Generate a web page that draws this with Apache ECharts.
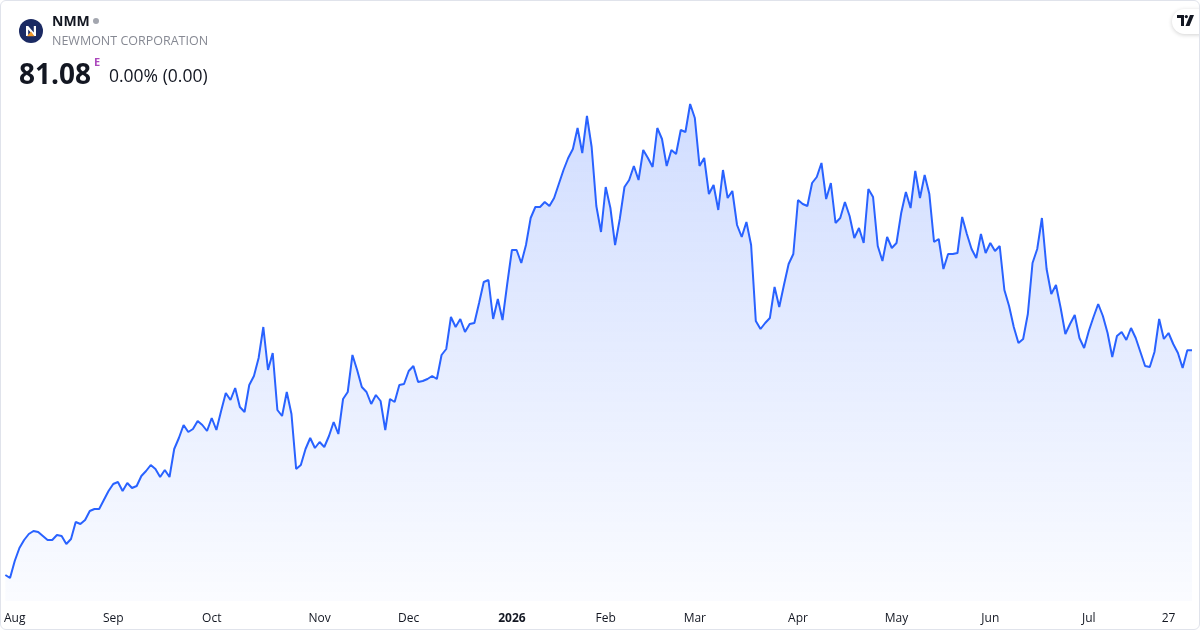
<!DOCTYPE html>
<html>
<head>
<meta charset="utf-8">
<script src="https://cdn.jsdelivr.net/npm/echarts@6/dist/echarts.min.js"></script>
<style>
  html, body { margin:0; padding:0; background:#fff; }
  #frame { position:relative; width:1200px; height:630px; box-sizing:border-box; border:1px solid #e0e3eb; border-radius:6px; overflow:hidden; font-family:"Open Sans", Roboto, sans-serif; }
  #chart { position:absolute; left:0; top:0; width:1200px; height:630px; }
  .abs { position:absolute; white-space:nowrap; }
</style>
</head>
<body>
<div id="frame">
  <div id="chart"></div>
  <svg class="abs" style="left:18px;top:18px" width="24" height="24" viewBox="0 0 24 24">
    <circle cx="12" cy="12" r="12" fill="#1b2a63"/>
    <path d="M7 17 V7 H9.2 L14.8 13.6 V7 H17 V17 H14.8 L9.2 10.4 V17 Z" fill="#ffffff"/>
    <path d="M8 17.2 L12 12.6 L15.5 17.2 Z" fill="#f39a2b"/>
  </svg>
  <div class="abs" style="left:51px;top:10px;font-size:14px;font-weight:700;color:#131722;line-height:20px;">NMM</div>
  <div class="abs" style="left:92px;top:17px;width:6px;height:6px;border-radius:3px;background:#a3a6af;"></div>
  <div class="abs" style="left:51px;top:31px;font-size:12.5px;color:#868993;line-height:18px;">NEWMONT CORPORATION</div>
  <div class="abs" style="left:18px;top:54px;font-size:28px;font-weight:700;color:#131722;line-height:36px;">81.08</div>
  <div class="abs" style="left:93px;top:54px;font-size:11px;font-weight:700;color:#ab47bc;line-height:14px;">E</div>
  <div class="abs" style="left:108px;top:62px;font-size:17.5px;color:#131722;line-height:24px;">0.00% (0.00)</div>
  <div class="abs" style="left:1171px;top:8px;width:40px;height:25px;border-radius:13px;background:#fff;box-shadow:0 1px 4px rgba(0,0,0,0.18);"></div>
  <svg class="abs" style="left:1176px;top:14px" width="18" height="12" viewBox="0 0 18 12">
    <path d="M0 0 H7 V11 H4 V3 H0 Z" fill="#131722"/>
    <circle cx="9.3" cy="1.6" r="1.6" fill="#131722"/>
    <path d="M13 0 H17 L12.5 11 H8.5 Z" fill="#131722"/>
  </svg>
</div>
<script>
// ---- data ----
const startDate = '2025-07-30';
const marketHolidays = ['2025-09-01','2025-11-27','2025-12-25','2026-01-01','2026-01-19','2026-02-16','2026-04-03','2026-05-25','2026-06-19','2026-07-03'];

const closes = [
  58.6, 58.3, 60.0, 61.3, 62.1, 62.7, 63.0, 62.9, 62.5, 62.1,
  62.1, 62.6, 62.5, 61.7, 62.2, 63.9, 63.7, 64.1, 65.0, 65.2,
  65.2, 66.1, 67.0, 67.7, 67.9, 67.0, 67.8, 67.3, 67.5, 68.5,
  69.0, 69.6, 69.2, 68.4, 69.1, 68.4, 71.2, 72.3, 73.6, 72.9,
  73.2, 74.0, 73.6, 73.0, 74.3, 73.1, 75.0, 76.8, 76.1, 77.3,
  75.4, 74.9, 77.6, 78.5, 80.3, 83.4, 79.1, 80.8, 75.1, 74.5,
  76.9, 74.7, 69.2, 69.6, 71.2, 72.3, 71.3, 71.9, 71.4, 72.5,
  73.9, 72.7, 76.2, 76.9, 80.6, 79.1, 77.4, 76.9, 75.7, 76.6,
  76.0, 73.1, 76.2, 75.9, 77.6, 77.7, 79.0, 79.5, 77.9, 78.0,
  78.2, 78.5, 78.2, 80.6, 81.2, 84.4, 83.4, 84.2, 82.9, 83.7,
  83.8, 85.8, 87.9, 88.1, 84.2, 86.2, 84.1, 87.7, 91.1, 91.1,
  89.8, 91.6, 94.3, 95.4, 95.4, 95.9, 95.5, 96.3, 97.7, 99.1,
  100.3, 101.2, 103.3, 100.8, 104.5, 101.4, 95.5, 92.9, 97.4, 95.3,
  91.6, 94.2, 97.4, 98.1, 99.5, 98.1, 101.1, 100.3, 99.4, 103.3,
  102.2, 99.5, 101.1, 100.7, 103.1, 102.9, 105.7, 104.3, 99.5, 100.3,
  96.7, 97.6, 95.1, 99.1, 96.3, 97.0, 93.6, 92.4, 93.9, 91.6,
  84.0, 83.2, 83.8, 84.3, 87.4, 85.4, 87.6, 89.7, 90.7, 96.1,
  95.7, 95.5, 97.8, 98.4, 99.8, 96.2, 97.8, 93.8, 94.3, 95.9,
  94.5, 92.3, 93.3, 91.8, 97.2, 96.4, 91.5, 90.0, 92.4, 91.3,
  91.8, 94.8, 96.9, 95.3, 99.0, 96.3, 98.6, 96.7, 91.9, 92.2,
  89.2, 90.7, 90.7, 90.8, 94.4, 92.7, 91.2, 90.3, 92.7, 90.8,
  91.8, 91.0, 91.5, 87.1, 85.5, 83.4, 81.8, 82.2, 84.7, 89.8,
  91.2, 94.3, 89.2, 86.7, 87.6, 85.3, 82.7, 83.7, 84.6, 82.3,
  81.3, 83.0, 84.4, 85.7, 84.5, 82.8, 80.4, 82.5, 82.9, 82.1,
  83.3, 82.3, 80.9, 79.5, 79.4, 80.9, 84.2, 82.2, 82.8, 81.7,
  80.8, 79.3, 81.08, 81.08
];

const tickDates = ['2025-08-01','2025-09-02','2025-10-01','2025-11-03','2025-12-01','2026-01-02','2026-02-02','2026-03-02','2026-04-01','2026-05-01','2026-06-01','2026-07-01','2026-07-27'];
const tickTexts = ['Aug','Sep','Oct','Nov','Dec','2026','Feb','Mar','Apr','May','Jun','Jul','27'];
const boldTicks = ['2026'];

// ---- categories: trading days ----
function tradingDays(start, n, holidays) {
  const out = [];
  const d = new Date(start + 'T00:00:00Z');
  while (out.length < n) {
    const dow = d.getUTCDay();
    const s = d.toISOString().slice(0, 10);
    if (dow !== 0 && dow !== 6 && holidays.indexOf(s) < 0) out.push(s);
    d.setUTCDate(d.getUTCDate() + 1);
  }
  return out;
}
const dates = tradingDays(startDate, closes.length, marketHolidays);
const tickMap = {};
tickDates.forEach((d, i) => { tickMap[d] = tickTexts[i]; });

const chart = echarts.init(document.getElementById('chart'));
chart.setOption({
  animation: false,
  grid: { left: 3, right: 9, top: 90, bottom: 30 },
  xAxis: {
    type: 'category',
    data: dates,
    boundaryGap: false,
    axisLine: { show: false },
    axisTick: { show: false },
    splitLine: { show: false },
    axisLabel: {
      interval: (i, v) => tickMap[v] !== undefined,
      formatter: v => {
        const t = tickMap[v];
        if (t === undefined) return '';
        return boldTicks.indexOf(t) >= 0 ? '{b|' + t + '}' : t;
      },
      color: '#131722',
      fontSize: 12,
      fontFamily: 'Open Sans',
      margin: 12,
      rich: { b: { fontWeight: 'bold', fontSize: 12, color: '#131722', fontFamily: 'Open Sans' } }
    }
  },
  yAxis: { type: 'value', min: 56, max: 107, show: false },
  series: [{
    type: 'line',
    data: closes,
    symbol: 'none',
    lineStyle: { color: '#2962ff', width: 2 },
    areaStyle: {
      color: new echarts.graphic.LinearGradient(0, 0, 0, 1, [
        { offset: 0, color: 'rgba(41,98,255,0.31)' },
        { offset: 1, color: 'rgba(41,98,255,0.03)' }
      ])
    }
  }]
});
</script>
</body>
</html>
